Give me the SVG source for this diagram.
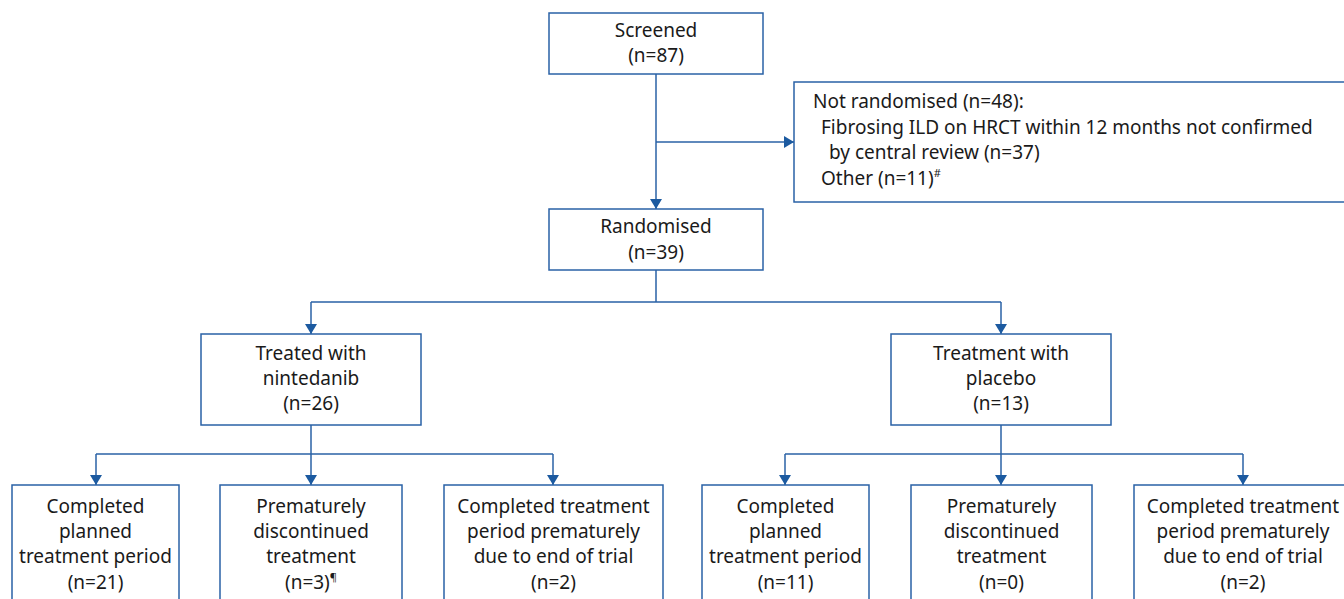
<svg xmlns="http://www.w3.org/2000/svg" width="1344" height="599" viewBox="0 0 1344 599">
<style>
.box{fill:#fff;stroke:#2a62a6;stroke-width:1.5}
.ln{fill:none;stroke:#2a62a6;stroke-width:1.5}
text{font-family:"Noto Sans","Open Sans","DejaVu Sans",sans-serif;font-size:19px;fill:#1a1a1a}
.c{text-anchor:middle}
.sup{font-size:11px}
</style>
<defs>
<marker id="ah" markerUnits="userSpaceOnUse" markerWidth="10" markerHeight="12" viewBox="0 0 10 12" refX="10" refY="6" orient="auto">
<path d="M0,0 L10,6 L0,12 z" fill="#1c5aa0"/>
</marker>
</defs>
<rect width="1344" height="599" fill="#fff"/>
<g id="connectors">
<path class="ln" d="M656,74 V209" marker-end="url(#ah)"/>
<path class="ln" d="M656,142 H794" marker-end="url(#ah)"/>
<path class="ln" d="M656,270 V302 M311,302 H1001"/>
<path class="ln" d="M311,302 V334" marker-end="url(#ah)"/>
<path class="ln" d="M1001,302 V334" marker-end="url(#ah)"/>
<path class="ln" d="M96,454 H553"/>
<path class="ln" d="M311,425 V485" marker-end="url(#ah)"/>
<path class="ln" d="M96,454 V485" marker-end="url(#ah)"/>
<path class="ln" d="M553,454 V485" marker-end="url(#ah)"/>
<path class="ln" d="M785,454 H1243"/>
<path class="ln" d="M1001,425 V485" marker-end="url(#ah)"/>
<path class="ln" d="M785,454 V485" marker-end="url(#ah)"/>
<path class="ln" d="M1243,454 V485" marker-end="url(#ah)"/>
</g>
<g id="screened">
<rect class="box" x="549" y="13" width="214" height="61"/>
<text class="c" x="656" y="37">Screened</text>
<text class="c" x="656" y="62">(n=87)</text>
</g>
<g id="not-randomised">
<rect class="box" x="794" y="82" width="552" height="120"/>
<text x="813" y="108">Not randomised (n=48):</text>
<text x="821" y="134">Fibrosing ILD on HRCT within 12 months not confirmed</text>
<text x="829" y="159">by central review (n=37)</text>
<text x="821" y="185">Other (n=11)<tspan class="sup" dy="-8">#</tspan></text>
</g>
<g id="randomised">
<rect class="box" x="549" y="209" width="214" height="61"/>
<text class="c" x="656" y="233">Randomised</text>
<text class="c" x="656" y="259">(n=39)</text>
</g>
<g id="nintedanib">
<rect class="box" x="201" y="334" width="220" height="91"/>
<text class="c" x="311" y="360">Treated with</text>
<text class="c" x="311" y="385">nintedanib</text>
<text class="c" x="311" y="410">(n=26)</text>
</g>
<g id="placebo">
<rect class="box" x="891" y="334" width="220" height="91"/>
<text class="c" x="1001" y="360">Treatment with</text>
<text class="c" x="1001" y="385">placebo</text>
<text class="c" x="1001" y="410">(n=13)</text>
</g>
<g id="n-completed">
<rect class="box" x="12" y="485" width="167" height="130"/>
<text class="c" x="95.5" y="513">Completed</text>
<text class="c" x="95.5" y="538">planned</text>
<text class="c" x="95.5" y="563">treatment period</text>
<text class="c" x="95.5" y="589">(n=21)</text>
</g>
<g id="n-discontinued">
<rect class="box" x="220" y="485" width="182" height="130"/>
<text class="c" x="311" y="513">Prematurely</text>
<text class="c" x="311" y="538">discontinued</text>
<text class="c" x="311" y="563">treatment</text>
<text class="c" x="311" y="589">(n=3)<tspan class="sup" dy="-8">¶</tspan></text>
</g>
<g id="n-endtrial">
<rect class="box" x="444" y="485" width="219" height="130"/>
<text class="c" x="553.5" y="513">Completed treatment</text>
<text class="c" x="553.5" y="538">period prematurely</text>
<text class="c" x="553.5" y="563">due to end of trial</text>
<text class="c" x="553.5" y="589">(n=2)</text>
</g>
<g id="p-completed">
<rect class="box" x="702" y="485" width="167" height="130"/>
<text class="c" x="785.5" y="513">Completed</text>
<text class="c" x="785.5" y="538">planned</text>
<text class="c" x="785.5" y="563">treatment period</text>
<text class="c" x="785.5" y="589">(n=11)</text>
</g>
<g id="p-discontinued">
<rect class="box" x="911" y="485" width="181" height="130"/>
<text class="c" x="1001.5" y="513">Prematurely</text>
<text class="c" x="1001.5" y="538">discontinued</text>
<text class="c" x="1001.5" y="563">treatment</text>
<text class="c" x="1001.5" y="589">(n=0)</text>
</g>
<g id="p-endtrial">
<rect class="box" x="1134" y="485" width="219" height="130"/>
<text class="c" x="1243" y="513">Completed treatment</text>
<text class="c" x="1243" y="538">period prematurely</text>
<text class="c" x="1243" y="563">due to end of trial</text>
<text class="c" x="1243" y="589">(n=2)</text>
</g>
</svg>
